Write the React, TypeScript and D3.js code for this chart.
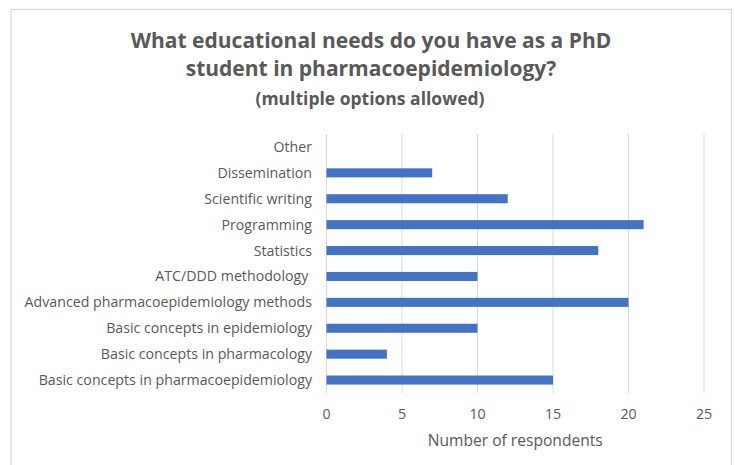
import React from "react";
import * as d3 from "d3";

const categories = [
  "Other",
  "Dissemination",
  "Scientific writing",
  "Programming",
  "Statistics",
  "ATC/DDD methodology ",
  "Advanced pharmacoepidemiology methods",
  "Basic concepts in epidemiology",
  "Basic concepts in pharmacology",
  "Basic concepts in pharmacoepidemiology",
];
const values = [0, 7, 12, 21, 18, 10, 20, 10, 4, 15];
const xTicks = [0, 5, 10, 15, 20, 25];
const titleLines = [
  "What educational needs do you have as a PhD",
  "student in pharmacoepidemiology?",
];
const subtitle = "(multiple options allowed)";
const xAxisTitle = "Number of respondents";

const W = 735;
const H = 465;
const plot = { left: 326.5, right: 704, top: 134, bottom: 393 };
const FONT = "'Open Sans', 'Noto Sans', sans-serif";
const TEXT = "#595959";

export default function App() {
  const x = d3.scaleLinear().domain([0, 25]).range([plot.left, plot.right]);
  const y = d3
    .scaleBand<string>()
    .domain(categories)
    .range([plot.top, plot.bottom])
    .paddingInner(0.65)
    .paddingOuter(0.325);

  return (
    <svg
      width={W}
      height={H}
      style={{ position: "absolute", left: 0, top: 0, background: "#fff" }}
      fontFamily={FONT}
    >
      <rect x={0} y={0} width={W} height={H} fill="#fff" />
      <rect x={11} y={9.5} width={720.5} height={470} fill="#fff" stroke="#d9d9d9" strokeWidth={1.2} />
      {titleLines.map((t, i) => (
        <text
          key={i}
          x={371}
          y={47.5 + i * 28.5}
          textAnchor="middle"
          fontSize={21}
          fontWeight="bold"
          fill={TEXT}
        >
          {t}
        </text>
      ))}
      <text x={370} y={104.5} textAnchor="middle" fontSize={17.5} fontWeight="bold" fill={TEXT}>
        {subtitle}
      </text>
      {xTicks.map((t) => (
        <g key={t}>
          <line
            x1={x(t)}
            x2={x(t)}
            y1={plot.top}
            y2={plot.bottom}
            stroke="#d9d9d9"
            strokeWidth={1}
          />
          <text x={x(t)} y={418.5} textAnchor="middle" fontSize={14.2} fill={TEXT}>
            {t}
          </text>
        </g>
      ))}
      {categories.map((c, i) => (
        <g key={c}>
          <rect
            x={x(0)}
            y={y(c)!}
            width={x(values[i]) - x(0)}
            height={y.bandwidth()}
            fill="#4472C4"
          />
          <text
            x={312}
            y={y(c)! + y.bandwidth() / 2}
            dy="0.35em"
            textAnchor="end"
            fontSize={14.2}
            fill={TEXT}
            style={{ whiteSpace: "pre" }}
          >
            {c}
          </text>
        </g>
      ))}
      <text x={(plot.left + plot.right) / 2} y={445.5} textAnchor="middle" fontSize={15.6} fill={TEXT}>
        {xAxisTitle}
      </text>
    </svg>
  );
}
